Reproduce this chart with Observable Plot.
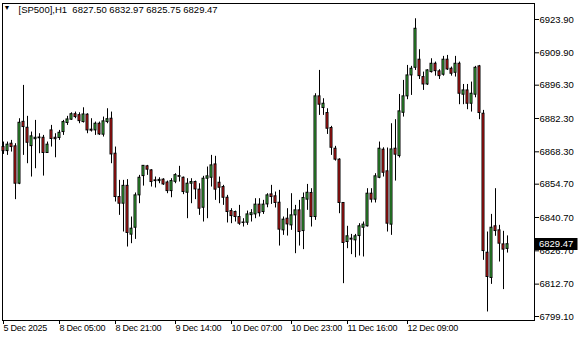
<!DOCTYPE html>
<html>
<head>
<meta charset="utf-8">
<script src="https://cdn.jsdelivr.net/npm/d3@7"></script>
<script src="https://cdn.jsdelivr.net/npm/@observablehq/plot@0.6"></script>
<style>
  html, body { margin: 0; padding: 0; background: #fff; }
  #chart { width: 580px; height: 340px; }
  #chart g[aria-label="x-axis tick label"] text { letter-spacing: -0.25px; }
</style>
</head>
<body>
<div id="chart"></div>
<script>
const symbolLabel = "[SP500],H1";
const lastBarText = "6827.50 6832.97 6825.75 6829.47";

const opens = [
 6870.3,6868.6,6871.7,6870.6,6854.9,6880.9,6878.4,6870.7,6873.6,6874.3,
 6874.2,6867.8,6877.3,6874.2,6874.1,6876.6,6880.4,6881.8,6884.1,6883.7,
 6880.8,6883.9,6877.6,6877.3,6880.1,6875.5,6880.8,6882.2,6867.5,6849.3,
 6846.5,6854.0,6833.5,6836.4,6850.0,6858.1,6862.2,6860.5,6856.3,6856.0,
 6856.6,6855.4,6851.8,6855.7,6858.1,6857.4,6851.1,6854.9,6855.6,6852.4,
 6844.8,6857.0,6857.4,6863.0,6855.3,6853.5,6849.0,6843.4,6843.0,6840.9,
 6838.6,6838.5,6841.7,6842.0,6846.1,6843.0,6846.2,6850.4,6849.6,6846.9,
 6835.3,6840.2,6837.4,6841.6,6843.7,6835.0,6848.2,6851.0,6840.9,6891.6,
 6886.7,6884.6,6878.3,6869.6,6865.0,6846.8,6830.4,6831.8,6831.1,6832.9,
 6836.4,6837.0,6850.7,6848.2,6857.4,6869.2,6860.1,6837.7,6869.6,6866.5,
 6884.7,6891.6,6900.4,6903.6,6907.0,6899.7,6896.6,6901.8,6905.3,6902.1,
 6900.7,6907.0,6903.2,6901.5,6905.3,6892.3,6894.1,6888.5,6892.3,6904.2,
 6884.3,6825.9,6815.3,6837.0,6835.3,6829.4,6827.50
];
const highs = [
 6872.4,6872.4,6873.1,6871.7,6882.2,6896.2,6883.2,6876.6,6881.5,6875.9,
 6875.2,6872.4,6879.4,6875.9,6877.3,6881.5,6883.2,6884.7,6885.0,6884.7,
 6886.8,6884.3,6882.2,6880.8,6880.8,6882.9,6886.4,6885.0,6870.3,6856.3,
 6856.3,6856.6,6840.9,6851.0,6858.4,6862.4,6862.6,6860.8,6857.7,6857.4,
 6857.0,6856.0,6857.0,6859.1,6862.2,6857.7,6857.0,6857.0,6856.0,6854.9,
 6858.0,6861.9,6866.8,6866.4,6857.7,6854.2,6850.0,6844.4,6843.4,6845.8,
 6840.2,6843.4,6844.0,6848.6,6848.6,6847.9,6850.7,6854.2,6851.4,6852.1,
 6840.9,6844.4,6850.7,6845.8,6847.9,6851.0,6854.6,6852.8,6892.7,6902.5,
 6890.6,6886.4,6879.0,6870.6,6865.4,6846.8,6837.0,6833.6,6833.6,6838.1,
 6838.8,6852.8,6852.8,6859.1,6872.4,6870.0,6869.9,6880.1,6881.8,6892.4,
 6898.3,6904.6,6904.2,6924.2,6911.2,6901.8,6902.8,6907.4,6906.0,6902.8,
 6908.4,6908.8,6903.9,6908.4,6906.0,6896.6,6896.6,6897.6,6904.2,6904.6,
 6885.7,6834.6,6842.0,6852.8,6837.4,6834.9,6832.97
];
const lows = [
 6867.2,6866.8,6868.2,6848.2,6854.5,6866.8,6863.3,6857.7,6861.2,6867.5,
 6858.1,6867.8,6870.3,6865.8,6873.1,6875.2,6879.4,6881.5,6882.2,6880.1,
 6880.4,6875.9,6876.6,6875.2,6875.2,6874.5,6880.1,6863.3,6847.2,6841.6,
 6834.6,6828.3,6829.7,6831.5,6846.5,6853.9,6858.4,6853.5,6853.1,6854.9,
 6854.2,6850.7,6849.0,6854.9,6855.6,6850.3,6840.2,6846.5,6848.2,6841.6,
 6838.8,6840.2,6853.5,6847.9,6846.5,6845.8,6838.4,6838.1,6838.8,6837.4,
 6836.7,6837.4,6838.8,6840.2,6840.9,6842.0,6844.8,6846.2,6844.7,6828.7,
 6833.2,6832.9,6835.3,6825.5,6828.7,6827.2,6843.7,6836.7,6839.5,6883.6,
 6883.6,6875.6,6866.8,6864.4,6842.3,6812.9,6827.6,6825.1,6823.8,6824.5,
 6824.1,6836.7,6846.8,6846.8,6857.0,6857.7,6834.6,6833.2,6856.0,6865.7,
 6882.9,6890.2,6892.0,6902.5,6898.7,6894.1,6896.2,6901.4,6900.1,6898.7,
 6900.1,6902.5,6900.1,6899.7,6888.1,6888.1,6886.0,6885.0,6891.0,6881.8,
 6822.7,6801.0,6812.6,6832.8,6822.0,6810.4,6825.75
];
const closes = [
 6868.6,6871.3,6870.3,6854.9,6880.5,6878.7,6872.1,6874.8,6874.2,6874.0,
 6867.8,6871.3,6873.7,6873.6,6876.3,6880.8,6881.9,6884.1,6882.9,6881.2,
 6884.0,6877.3,6877.2,6880.1,6875.6,6881.1,6882.0,6867.2,6849.3,6846.5,
 6854.0,6834.2,6836.0,6850.0,6857.4,6862.4,6860.8,6855.6,6856.0,6856.5,
 6854.6,6851.8,6856.0,6858.5,6857.8,6851.4,6854.9,6855.6,6852.5,6844.4,
 6857.0,6858.0,6862.6,6852.4,6853.2,6849.0,6843.0,6841.3,6840.9,6838.1,
 6838.4,6842.0,6842.5,6846.1,6842.5,6846.1,6850.0,6849.3,6846.8,6835.6,
 6839.8,6837.8,6841.6,6843.7,6834.6,6848.9,6851.1,6840.9,6891.6,6888.1,
 6888.5,6878.0,6870.0,6865.0,6846.8,6830.0,6832.8,6831.4,6832.8,6837.0,
 6837.7,6850.7,6848.2,6858.0,6869.6,6859.5,6838.1,6869.3,6867.1,6885.3,
 6891.6,6900.4,6903.2,6920.0,6900.1,6896.6,6902.5,6905.3,6902.2,6900.1,
 6907.0,6902.9,6901.1,6905.3,6892.7,6894.1,6888.5,6892.7,6903.6,6884.6,
 6826.6,6815.7,6836.4,6835.0,6829.7,6827.2,6829.47
];

const yTickValues = [6923.9,6909.9,6896.3,6882.3,6868.3,6854.7,6840.7,6826.7,6812.7,6799.1];
const xTickBars = [0,14,28,43,57,72,86,101];
const xTickLabels = ["5 Dec 2025","8 Dec 05:00","8 Dec 21:00","9 Dec 14:00","10 Dec 07:00","10 Dec 23:00","11 Dec 16:00","12 Dec 09:00"];

const bullColor = "#44d244";
const bearColor = "#f21d1d";
const FONT = "'Liberation Sans', Arial, sans-serif";

const bars = opens.map((o, i) => ({i, o, h: highs[i], l: lows[i], c: closes[i]}));
const last = bars[bars.length - 1];

const chart = Plot.plot({
  width: 580,
  height: 340,
  marginLeft: 2,
  marginRight: 46,
  marginTop: 3,
  marginBottom: 20,
  style: {fontFamily: FONT, fontSize: "9.5px", background: "#fff", color: "#000"},
  x: {type: "linear", domain: [-0.25, 132.75]},
  y: {type: "linear", domain: [6797.42, 6930.62]},
  marks: [
    Plot.frame({stroke: "#000"}),
    Plot.ruleX(bars, {x: "i", y1: "l", y2: "h", stroke: "#000", strokeWidth: 1}),
    Plot.rect(bars, {
      x1: d => d.i - 0.25, x2: d => d.i + 0.25,
      y1: "o", y2: "c",
      fill: d => d.c >= d.o ? bullColor : bearColor,
      stroke: "#000", strokeWidth: 1
    }),
    Plot.axisY({anchor: "right", ticks: yTickValues, tickFormat: d => d.toFixed(2), tickSize: 4, tickPadding: 1, label: null}),
    Plot.axisX({anchor: "bottom", ticks: xTickBars, tickFormat: d => xTickLabels[xTickBars.indexOf(d)], textAnchor: "start", tickSize: 4, tickPadding: 0, fontSize: 9, label: null}),
    Plot.text(["▼"], {frameAnchor: "top-left", dx: 4.5, dy: 4.5, fontSize: 7, textAnchor: "middle", lineAnchor: "middle", fill: "#000"}),
    Plot.text([symbolLabel + "  " + lastBarText], {frameAnchor: "top-left", dx: 16, dy: 6.5, textAnchor: "start", lineAnchor: "middle", fill: "#000"})
  ]
});

// current price tag on the right axis, positioned through the y scale
const yPos = chart.scale("y").apply(last.c);
const g = d3.select(chart).append("g");
g.append("rect").attr("x", 534.5).attr("y", Math.round(yPos) - 6).attr("width", 43).attr("height", 12).attr("fill", "#000");
g.append("text").attr("x", 539).attr("y", yPos).attr("dy", "0.35em")
  .attr("text-anchor", "start")
  .attr("fill", "#fff").attr("font-family", FONT).attr("font-size", "9.5px")
  .text(last.c.toFixed(2));

document.getElementById("chart").appendChild(chart);
</script>
</body>
</html>
